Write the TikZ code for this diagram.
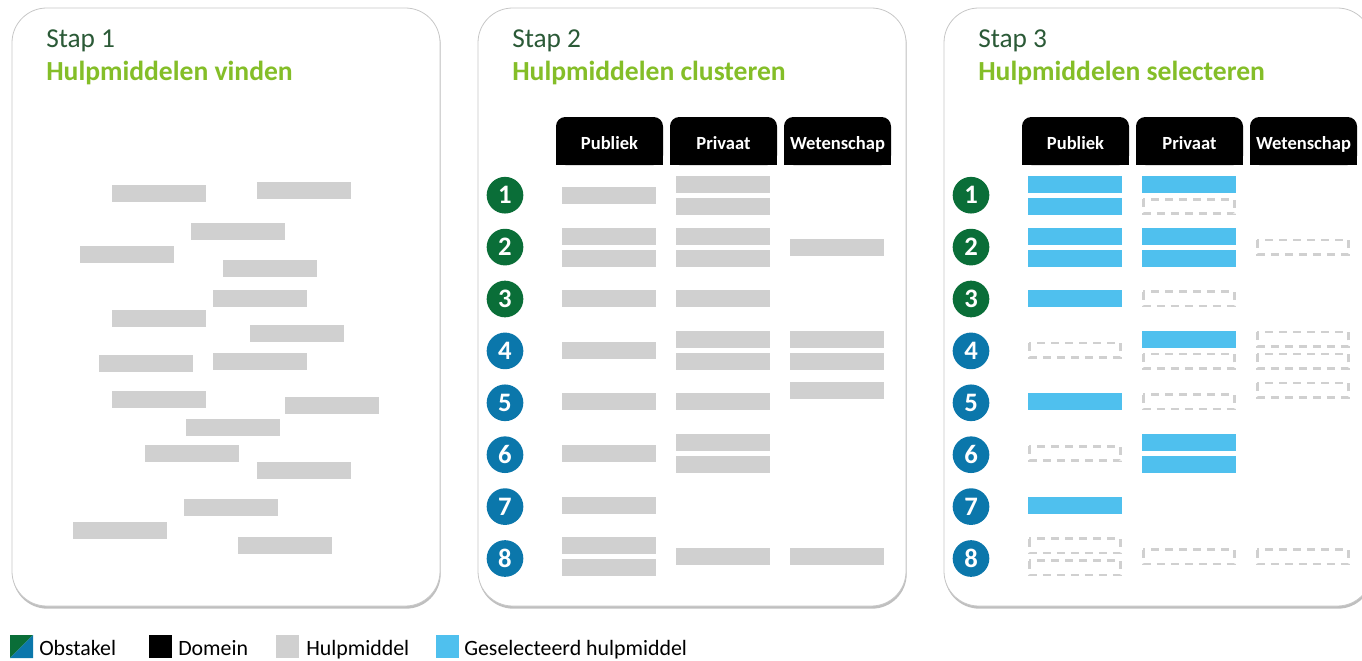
\documentclass[tikz,border=0pt]{standalone}
\usepackage{fontspec}
\setmainfont{Carlito}
\usetikzlibrary{shadows}
\definecolor{stapgroen}{HTML}{2B5A37}
\definecolor{titelgroen}{HTML}{84BE28}
\definecolor{obsgroen}{HTML}{0A6E38}
\definecolor{obsblauw}{HTML}{0B77AB}
\definecolor{hulpgrijs}{HTML}{D0D0D0}
\definecolor{selblauw}{HTML}{4FC0EE}
\tikzset{
  paneel/.style={fill=white,draw=black!22,line width=0.6pt,rounded corners=26pt,
    drop shadow={shadow xshift=0.5pt,shadow yshift=-2pt,opacity=0.5}},
  hulp/.style={fill=hulpgrijs},
  gekozen/.style={fill=selblauw},
  leeg/.style={draw=hulpgrijs,line width=2pt,dash pattern=on 6pt off 4.5pt},
  stapnr/.style={font=\fontsize{20.5}{24}\selectfont,text=stapgroen,anchor=base west,inner sep=0pt},
  staptitel/.style={font=\fontsize{20.7}{24}\selectfont\bfseries,text=titelgroen,anchor=base west,inner sep=0pt},
  kop/.style={font=\fontsize{13.9}{16}\selectfont\bfseries,text=white,anchor=base,inner sep=0pt},
  nummer/.style={circle,inner sep=0pt,minimum size=27.5pt,text=white,font=\fontsize{20}{20}\selectfont\bfseries},
  legenda/.style={font=\fontsize{16.4}{18}\selectfont,anchor=base west,inner sep=0pt}
}
\begin{document}
\begin{tikzpicture}[x=0.75pt,y=-0.75pt]
\useasboundingbox (0,0) rectangle (1362,660);
% three panels with their titles
\foreach \p/\t in {0/vinden,1/clusteren,2/selecteren}{
  \draw[paneel] ({12+466*\p},8) rectangle ({440+466*\p},606);
  \pgfmathtruncatemacro\n{\p+1}
  \node[stapnr] (stap\n) at ({46+466*\p},48) {Stap \n};
  \node[staptitel] (titel\n) at ({46+466*\p},80) {Hulpmiddelen \t};
}
% step 1: loose aids
\foreach \x/\y in {112/185,257/182,191/223,80/246,223/260,213/290,112/310,250/325,
  99/355,213/353,112/391,285/397,186/419,145/445,257/462,184/499,73/522,238/537}
  \fill[hulp] (\x,\y) rectangle ++(94,17);
% column headers and row numbers for step 2 and 3
\foreach \p in {1,2}{
  \foreach \c/\t in {0/Publiek,1/Privaat,2/Wetenschap}{
    \fill[rounded corners=7pt] ({556+114*\c+466*(\p-1)},117) rectangle ++(107,48);
    \fill ({556+114*\c+466*(\p-1)},141) rectangle ++(107,24);
    \node[kop] (kop\p-\c) at ({609.5+114*\c+466*(\p-1)},149) {\t};
  }
  \foreach \r in {1,...,8}{
    \ifnum\r<4 \def\kl{obsgroen}\else\def\kl{obsblauw}\fi
    \node[nummer,fill=\kl] (nr\p-\r) at ({505+466*(\p-1)},{195.2+51.9*(\r-1)}) {\r};
  }
}
% step 2: aids per domain
\foreach \c/\r/\o in {0/1/0,1/1/-11,1/1/11,
  0/2/-11,0/2/11,1/2/-11,1/2/11,2/2/0,
  0/3/0,1/3/0,
  0/4/0,1/4/-11,1/4/11,2/4/-11,2/4/11,2/4/40,
  0/5/0,1/5/0,
  0/6/0,1/6/-11,1/6/11,
  0/7/0,
  0/8/-11,0/8/11,1/8/0,2/8/0}
  \fill[hulp] ({562+114*\c},{195.5+51.6*(\r-1)+(\o)-8.5}) rectangle ++(94,17);
% step 3: selected aids
\foreach \c/\r/\o in {0/1/-11,0/1/11,1/1/-11,
  0/2/-11,0/2/11,1/2/-11,1/2/11,
  0/3/0,1/4/-11,0/5/0,1/6/-11,1/6/11,0/7/0}
  \fill[gekozen] ({1028+114*\c},{195.5+51.6*(\r-1)+(\o)-8.5}) rectangle ++(94,17);
% step 3: dropped aids
\foreach \c/\r/\o in {1/1/11,2/2/0,1/3/0,0/4/0,1/4/11,2/4/-11,2/4/11,2/4/40,
  1/5/0,0/6/0,0/8/-11,0/8/11,1/8/0,2/8/0}
  \draw[leeg] ({1029.3+114*\c},{195.5+51.6*(\r-1)+(\o)-7.2}) rectangle ++(91.4,14.4);
% legend
\fill[obsgroen] (10,635) -- (33,635) -- (10,658) -- cycle;
\fill[obsblauw] (33,635) -- (33,658) -- (10,658) -- cycle;
\node[legenda] (obstakel) at (39,655) {Obstakel};
\fill (149,635) rectangle (172,658);
\node[legenda] (domein) at (178,655) {Domein};
\fill[hulp] (276,635) rectangle (299,658);
\node[legenda] (hulpmiddel) at (306,655) {Hulpmiddel};
\fill[gekozen] (436,635) rectangle (459,658);
\node[legenda] (geselecteerd) at (464,655) {Geselecteerd hulpmiddel};
\end{tikzpicture}
\end{document}
